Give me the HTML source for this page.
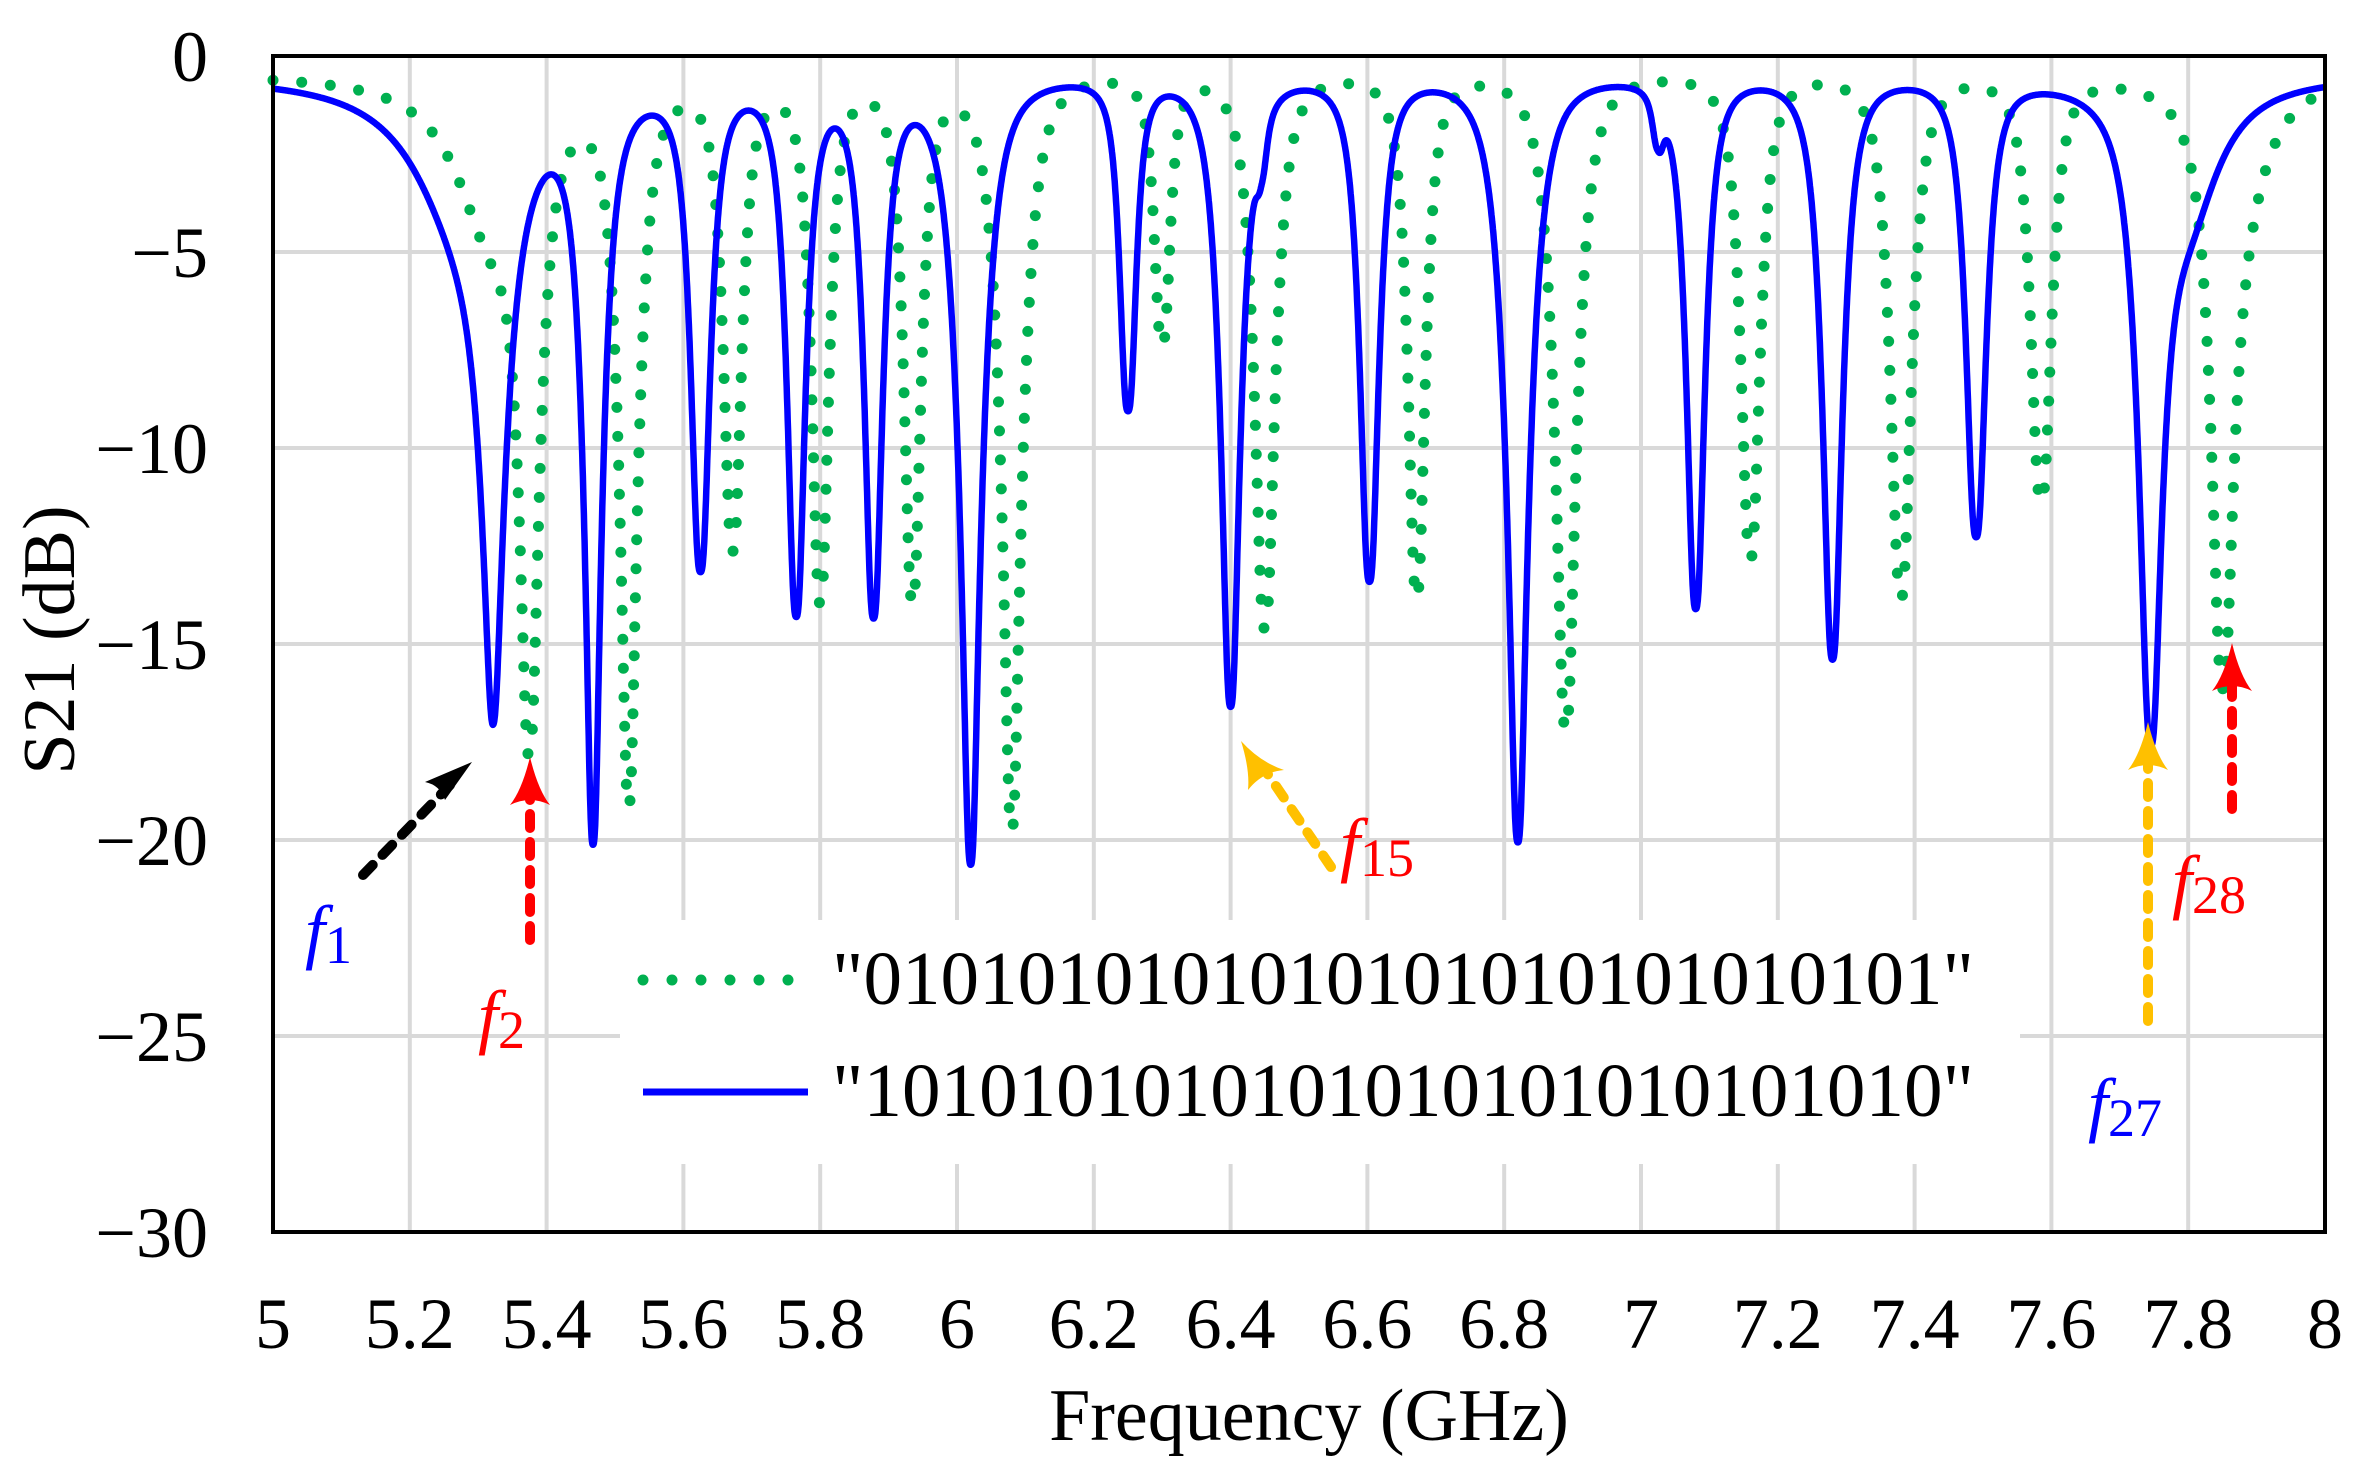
<!DOCTYPE html>
<html><head><meta charset="utf-8"><style>
html,body{margin:0;padding:0;background:#fff}
svg{display:block}
text{font-family:"Liberation Serif",serif}
</style></head><body>
<svg id="s" width="2360" height="1475" viewBox="0 0 2360 1475" xmlns="http://www.w3.org/2000/svg">
<g id="grid" stroke="#d9d9d9" stroke-width="4"></g>
<rect x="620" y="920" width="1400" height="244" fill="#fff"/>
<path id="g" fill="none" stroke="#00b050" stroke-width="11" stroke-linecap="round" stroke-dasharray="0 29"/>
<path id="b" fill="none" stroke="#0000ff" stroke-width="6.5" stroke-linejoin="round"/>
<rect x="273" y="56" width="2052" height="1176" fill="none" stroke="#000" stroke-width="4"/>
<g id="yl" font-size="72" text-anchor="end"></g>
<g id="xl" font-size="72" text-anchor="middle"></g>
<text x="1309" y="1440" font-size="74" text-anchor="middle">Frequency  (GHz)</text>
<text transform="translate(74,640) rotate(-90)" font-size="74" text-anchor="middle">S21 (dB)</text>
<line x1="643" y1="980" x2="794" y2="980" stroke="#00b050" stroke-width="11" stroke-linecap="round" stroke-dasharray="0 29"/>
<text x="832" y="1004" font-size="76" textLength="1142" lengthAdjust="spacingAndGlyphs">"0101010101010101010101010101"</text>
<line x1="643" y1="1092" x2="808" y2="1092" stroke="#0000ff" stroke-width="7"/>
<text x="832" y="1116" font-size="76" textLength="1142" lengthAdjust="spacingAndGlyphs">"1010101010101010101010101010"</text>
<g stroke-width="10" fill="none" stroke-linecap="round" stroke-dasharray="14 14">
<line x1="363" y1="875" x2="450" y2="785" stroke="#000"/>
<line x1="530" y1="940" x2="530" y2="790" stroke="#ff0000"/>
<line x1="1331" y1="867" x2="1265" y2="770" stroke="#ffc000"/>
<line x1="2148" y1="1021" x2="2148" y2="760" stroke="#ffc000"/>
<line x1="2232" y1="809" x2="2232" y2="680" stroke="#ff0000"/>
</g>
<path d="M472,762 L425,782 Q440,785 445,800 Z" fill="#000"/>
<path d="M530,757 Q522,790 510,805 Q530,795 550,805 Q538,790 530,757 Z" fill="#ff0000"/>
<path d="M1241,741 Q1250,770 1248,790 Q1262,772 1284,770 Q1260,762 1241,741 Z" fill="#ffc000"/>
<path d="M2148,722 Q2140,755 2128,770 Q2148,760 2168,770 Q2156,755 2148,722 Z" fill="#ffc000"/>
<path d="M2232,643 Q2224,676 2212,691 Q2232,681 2252,691 Q2240,676 2232,643 Z" fill="#ff0000"/>
<g font-size="72">
<text x="305" y="955" fill="#0000ff"><tspan font-style="italic">f</tspan><tspan font-size="54" dy="8">1</tspan></text>
<text x="478" y="1040" fill="#ff0000"><tspan font-style="italic">f</tspan><tspan font-size="54" dy="8">2</tspan></text>
<text x="1340" y="868" fill="#ff0000"><tspan font-style="italic">f</tspan><tspan font-size="54" dy="8">15</tspan></text>
<text x="2088" y="1128" fill="#0000ff"><tspan font-style="italic">f</tspan><tspan font-size="54" dy="8">27</tspan></text>
<text x="2172" y="905" fill="#ff0000"><tspan font-style="italic">f</tspan><tspan font-size="54" dy="8">28</tspan></text>
</g>
</svg>
<script>
var X=function(f){return 273+(f-5)/3*2052}, Y=function(d){return 56+(-d)/30*1176};
var ns="http://www.w3.org/2000/svg";
var grid=document.getElementById('grid'),yl=document.getElementById('yl'),xl=document.getElementById('xl');
for(var i=1;i<15;i++){var l=document.createElementNS(ns,'line');var x=X(5+i*0.2);l.setAttribute('x1',x);l.setAttribute('x2',x);l.setAttribute('y1',56);l.setAttribute('y2',1232);grid.appendChild(l);}
for(var j=1;j<6;j++){var l=document.createElementNS(ns,'line');var y=Y(-5*j);l.setAttribute('x1',273);l.setAttribute('x2',2325);l.setAttribute('y1',y);l.setAttribute('y2',y);grid.appendChild(l);}
for(var j=0;j<=6;j++){var t=document.createElementNS(ns,'text');t.setAttribute('x',208);t.setAttribute('y',Y(-5*j)+25);t.textContent=j==0?'0':'\u2212'+(5*j);yl.appendChild(t);}
var xs=['5','5.2','5.4','5.6','5.8','6','6.2','6.4','6.6','6.8','7','7.2','7.4','7.6','7.8','8'];
for(var i=0;i<16;i++){var t=document.createElementNS(ns,'text');t.setAttribute('x',X(5+i*0.2));t.setAttribute('y',1348);t.textContent=xs[i];xl.appendChild(t);}
function curve(d,base){var s='';for(var f=5;f<=8.0001;f+=0.0005){var db=base;
 for(var k=0;k<d.length;k++){var p=d[k][3]||2.7;var a=1-Math.pow(10,-d[k][1]/10);var x=Math.abs(f-d[k][0])/d[k][2];db+=-10*Math.log10(1-a/(1+Math.pow(x,p)));}
 db=-db;if(db<-30)db=-30;s+=(s?'L':'M')+X(f).toFixed(1)+','+Y(db).toFixed(1);}return s;}
var B=[[5.27,3.0,0.1,2],[5.322,14.3,0.045,2.2],[5.468,18.8,0.033],[5.625,12.3,0.028],[5.765,13.5,0.028],[5.878,13.5,0.028],[6.02,20,0.042],[6.25,8.4,0.02],[6.40,16,0.033],[6.445,1.2,0.01],[6.603,12.8,0.028],[6.82,19.5,0.042],[7.025,1.2,0.01],[7.08,13.5,0.028],[7.28,14.8,0.032],[7.49,11.6,0.028],[7.745,15.3,0.038],[7.80,3.3,0.07,2]];
var G=[[5.32,4.0,0.08,2],[5.375,15.0,0.032],[5.52,18.2,0.033],[5.672,11.9,0.026],[5.80,13.3,0.026],[5.935,13.3,0.026],[6.08,19.2,0.038],[6.30,6.8,0.018],[6.45,14.1,0.032],[6.672,13.3,0.026],[6.89,16.7,0.037],[7.16,12.3,0.028],[7.38,13.3,0.032],[7.585,10.8,0.028],[7.85,13.4,0.033],[7.875,2.8,0.06,2]];
document.getElementById('b').setAttribute('d',curve(B,0.5));
document.getElementById('g').setAttribute('d',curve(G,0.45));
</script>
</body></html>
